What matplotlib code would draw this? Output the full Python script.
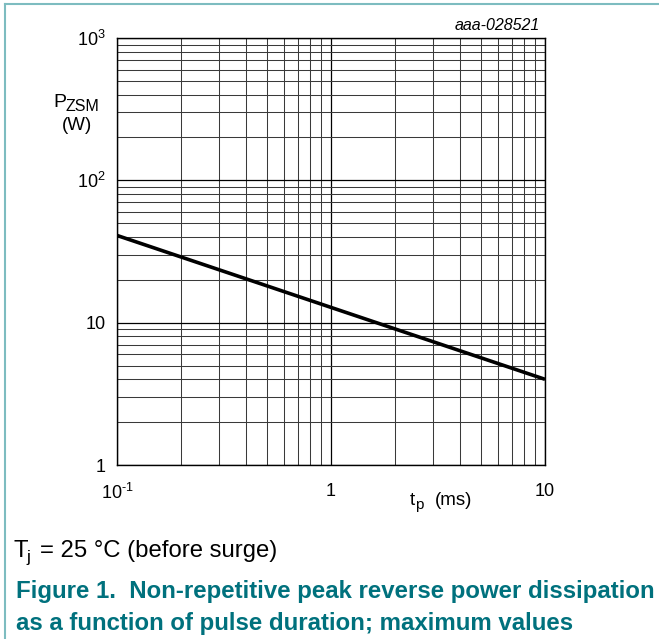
import matplotlib
matplotlib.use("Agg")
import matplotlib.pyplot as plt
from matplotlib.lines import Line2D
import numpy as np

plt.rcParams['font.family'] = ['Liberation Sans', 'DejaVu Sans']
plt.rcParams['mathtext.fontset'] = 'custom'
plt.rcParams['mathtext.rm'] = 'Liberation Sans'
plt.rcParams['mathtext.it'] = 'Liberation Sans:italic'
plt.rcParams['mathtext.bf'] = 'Liberation Sans:bold'

# data
tp_ms = [0.1, 1.0, 10.0]
pzsm_w = [41.0, 12.8, 4.0]

x_ticks = [0.1, 1, 10]
x_ticklabels = ['$\\mathregular{10^{\\text{-}1}}$', '1', '10']
y_ticks = [1, 10, 100, 1000]
y_ticklabels = ['1', '10', '$\\mathregular{10^{2}}$', '$\\mathregular{10^{3}}$']

W, H = 659, 639
fig = plt.figure(figsize=(W / 100, H / 100), dpi=100)

def fx(px):
    return px / W

def fy(py):
    return 1 - py / H

ax = fig.add_axes([fx(117), fy(465), fx(545) - fx(117), fy(38) - fy(465)])
ax.set_xscale('log')
ax.set_yscale('log')
ax.set_xlim(0.1, 10)
ax.set_ylim(1, 1000)

ax.grid(True, which='major', color='black', linewidth=0.9)
ax.grid(True, which='minor', color='#3a3a3a', linewidth=0.75)
ax.set_axisbelow(True)

ax.plot(tp_ms, pzsm_w, color='black', linewidth=2.6, solid_capstyle='butt', zorder=5)

ax.set_xticks(x_ticks)
ax.set_xticklabels(x_ticklabels)
ax.set_yticks(y_ticks)
ax.set_yticklabels(y_ticklabels)
ax.tick_params(axis='both', which='both', length=0, labelsize=13)
ax.tick_params(axis='x', pad=13)
ax.tick_params(axis='y', pad=8)
for s in ax.spines.values():
    s.set_linewidth(1.0)
    s.set_color('black')

# axis labels
fig.text(fx(53), fy(107), 'P', ha='left', va='baseline', fontsize=14)
fig.text(fx(66), fy(111), 'ZSM', ha='left', va='baseline', fontsize=11.5)
fig.text(fx(77), fy(125), '(W)', ha='center', va='center', fontsize=13.5)

fig.text(fx(410), fy(505), 't', ha='left', va='baseline', fontsize=13.5)
fig.text(fx(415), fy(509), 'p', ha='left', va='baseline', fontsize=11)
fig.text(fx(472), fy(505), '(ms)', ha='right', va='baseline', fontsize=13.5)

fig.text(fx(540), fy(25), 'aaa-028521', ha='right', va='center', fontsize=11.5, style='italic')

# notes and caption
fig.text(fx(13), fy(557), 'T', ha='left', va='baseline', fontsize=17.2)
fig.text(fx(26), fy(562), 'j', ha='left', va='baseline', fontsize=12.5)
fig.text(fx(277), fy(557), '= 25 °C (before surge)', ha='right', va='baseline', fontsize=17.2)

teal = '#00717d'
fig.text(fx(16), fy(598), 'Figure 1.  Non-repetitive peak reverse power dissipation',
         ha='left', va='baseline', fontsize=17.3, fontweight='bold', color=teal)
fig.text(fx(16), fy(630), 'as a function of pulse duration; maximum values',
         ha='left', va='baseline', fontsize=17.3, fontweight='bold', color=teal)

# frame lines (top & left)
border = '#7dbcc0'
fig.add_artist(Line2D([fx(5), 1], [fy(4), fy(4)], color=border, linewidth=1.5, transform=fig.transFigure))
fig.add_artist(Line2D([fx(5), fx(5)], [fy(4), 0], color=border, linewidth=1.5, transform=fig.transFigure))

fig.savefig('out.png', dpi=100)
